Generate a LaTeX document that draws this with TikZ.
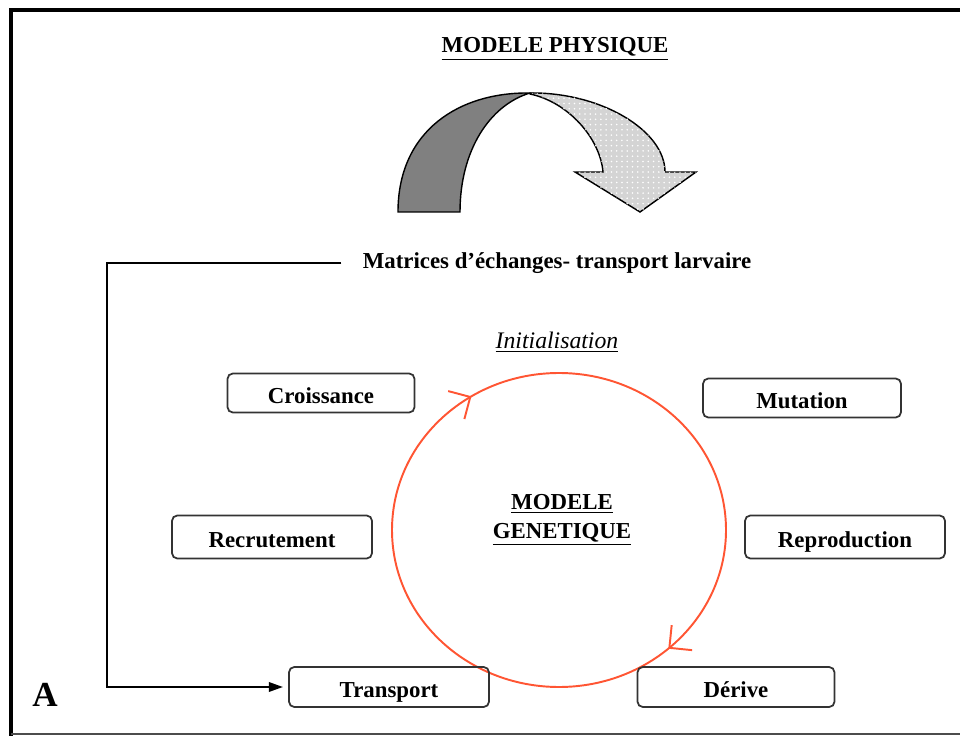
\documentclass[tikz,border=0pt]{standalone}
\usepackage{fontspec}
\setmainfont{Liberation Serif}
\usetikzlibrary{arrows.meta,decorations.markings,patterns}

\definecolor{loopred}{RGB}{255,85,51}
\definecolor{backgray}{RGB}{128,128,128}
\definecolor{facegray}{RGB}{212,212,212}

\begin{document}
\begin{tikzpicture}[x=0.02cm, y=-0.02cm,
    box/.style={rectangle, draw=black!80, line width=1pt, rounded corners=3pt, minimum width=4cm, minimum height=0.8cm, inner sep=0pt, text height=12.5pt, text depth=0.5pt, text centered, font=\fontsize{13}{15}\selectfont\bfseries},
    lbl/.style={font=\fontsize{13}{16}\selectfont\bfseries, inner sep=0pt, align=center},
    link/.style={line width=0.85pt, -{Triangle[length=8pt,width=5.5pt]}, shorten >=3pt},
    loopline/.style={draw=loopred, line width=1.1pt, postaction={decorate}, decoration={markings,
        mark=at position 0.134 with {\arrow{Straight Barb[angle=90:13pt]}},
        mark=at position 0.66 with {\arrow{Straight Barb[angle=90:13pt]}}}}
]
    \useasboundingbox (0,0) rectangle (960,736);
    \draw[line width=2.3pt] (11,736) -- (11,10) -- (960,10);
    \draw[black!70, line width=1.1pt] (11,734) -- (960,734);

    \node[lbl, anchor=base] (phys) at (555,53) {\underline{MODELE PHYSIQUE}};

    % curved arrow
    \draw[fill=backgray, line width=0.8pt] (398,212) .. controls (398,130) and (460,92) .. (530,93)
        .. controls (490,105) and (460,150) .. (460,212) -- cycle;
    \draw[fill=facegray, line width=0.8pt, postaction={pattern=dots, pattern color=white}]
        (530,93) .. controls (600,92) and (665,130) .. (665,172) -- (696,172) -- (640,212)
        -- (575,172) -- (603,172) .. controls (600,138) and (568,102) .. (530,94) -- cycle;

    \node[lbl, inner xsep=12pt] (mtx) at (557,263) {Matrices d’échanges- transport larvaire};
    \node[font=\fontsize{13.5}{16}\selectfont\itshape, anchor=base, inner sep=0pt] (init) at (557,349) {\underline{Initialisation}};

    \draw[loopline] (559,530) ellipse [x radius=167, y radius=157];
    \node[lbl] (gen) at (562,520) {\underline{MODELE}\\\underline{GENETIQUE}};

    \node[box, minimum width=3.74cm, minimum height=0.78cm] (crois) at (321,393) {Croissance};
    \node[box, minimum height=0.86cm] (recr) at (272,537) {Recrutement};
    \node[box, minimum width=3.96cm, minimum height=0.78cm] (mut) at (802,398) {Mutation};
    \node[box, minimum height=0.86cm] (repr) at (845,537) {Reproduction};
    \node[box] (trans) at (389,687) {Transport};
    \node[box, minimum width=3.94cm] (der) at (736,687) {Dérive};

    \coordinate (lft) at (107,263);
    \draw[link] (mtx.west) -- (lft) |- (trans.west);

    \node[font=\fontsize{20}{24}\selectfont\bfseries] (lettre) at (45,695) {A};
\end{tikzpicture}
\end{document}
